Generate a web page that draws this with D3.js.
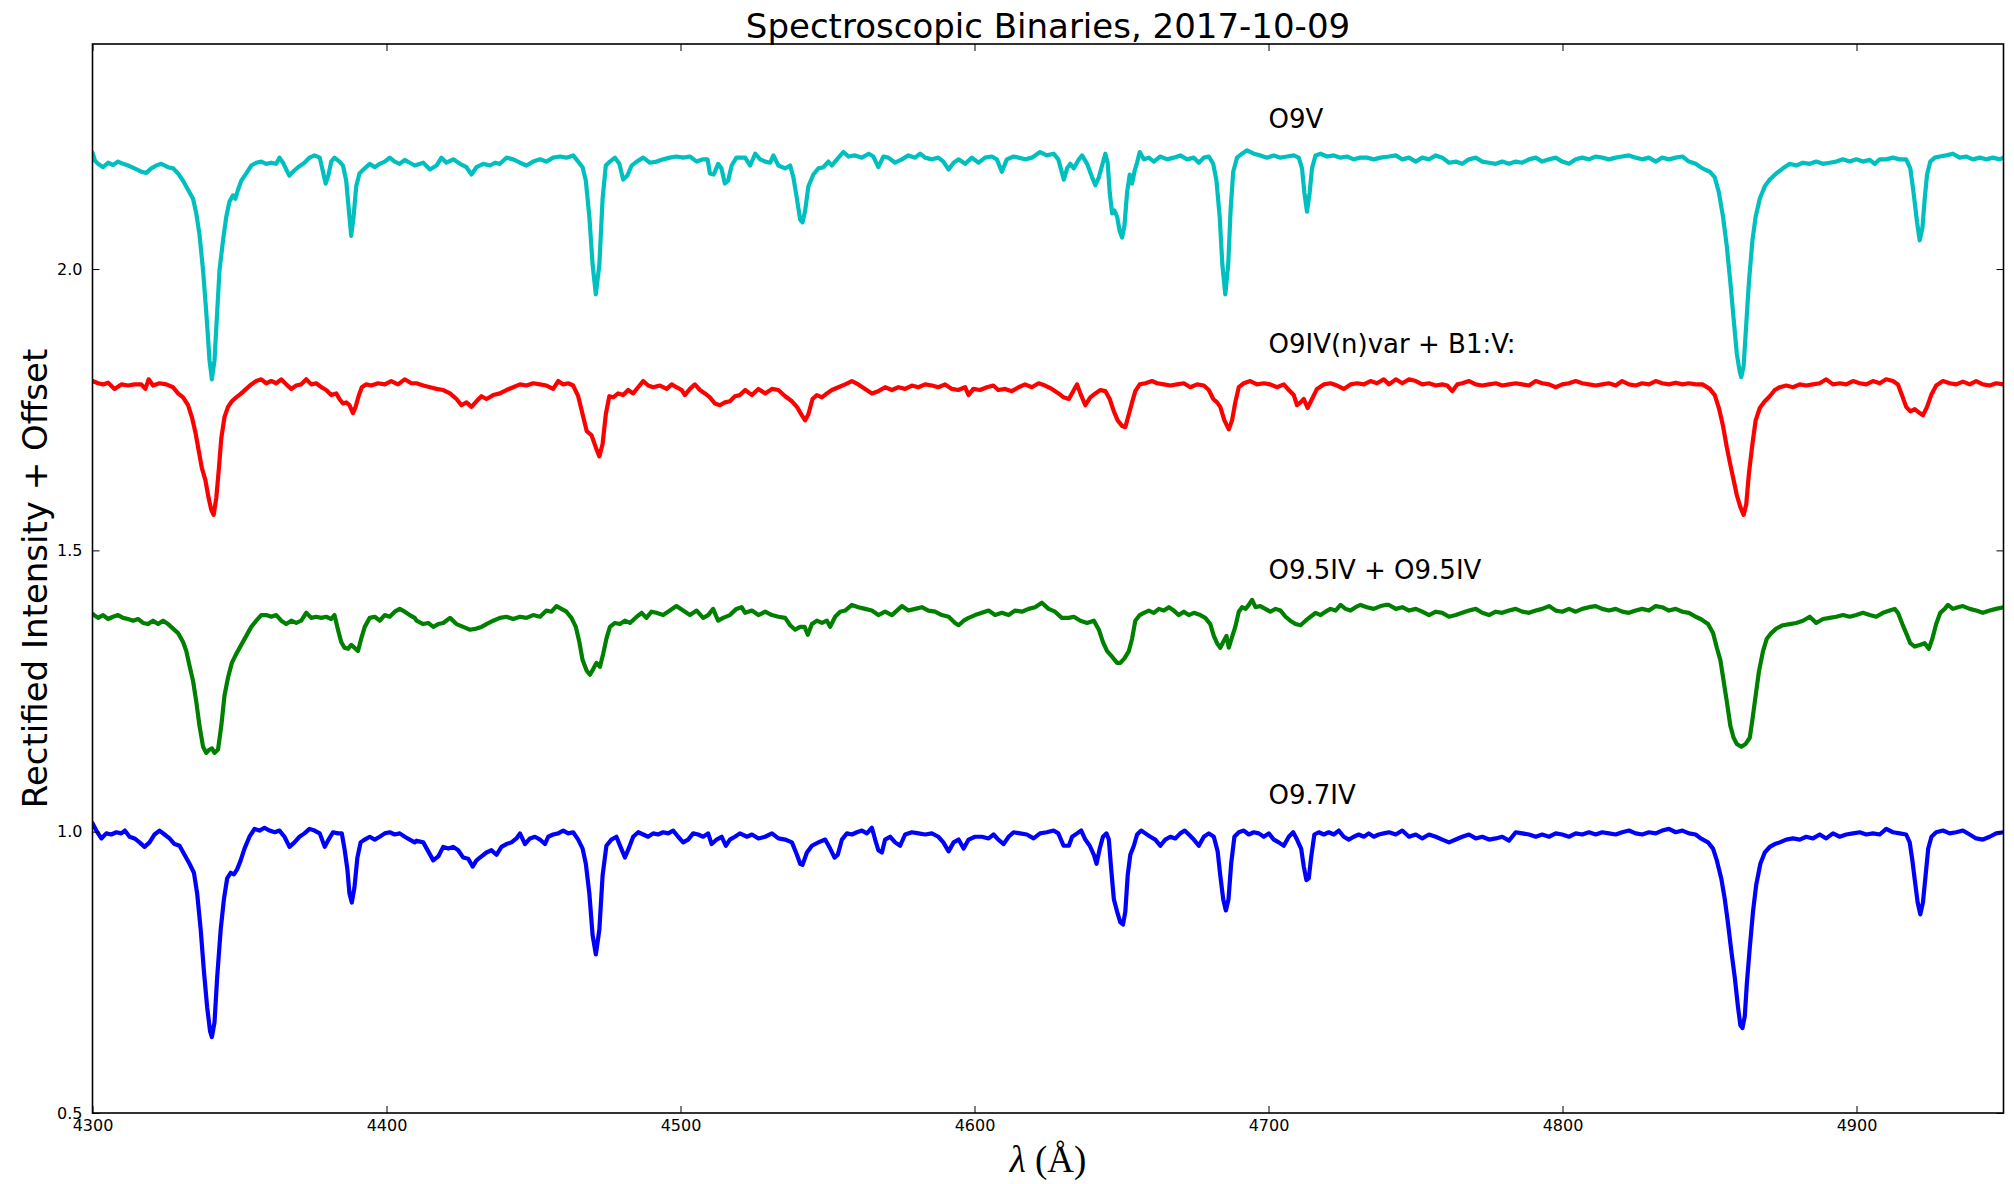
<!DOCTYPE html>
<html>
<head>
<meta charset="utf-8">
<script src="https://cdn.jsdelivr.net/npm/d3@7"></script>
<style>
  html, body { margin: 0; padding: 0; background: #ffffff; }
  svg { display: block; }
</style>
</head>
<body>
<svg id="chart" width="2014" height="1184"></svg>
<script>
// Rectified spectra, each shifted by a constant offset: [wavelength (Å), intensity + offset]
const specO9V = [
  [4300.0,2.207],[4300.8,2.193],[4301.9,2.187],[4303.6,2.181],[4305.3,2.189],[4307.0,2.185],[4308.7,2.191],[4310.4,2.187],
  [4312.1,2.184],[4314.3,2.179],[4316.6,2.173],[4318.3,2.171],[4320.0,2.179],[4321.7,2.184],[4323.4,2.187],[4325.7,2.181],
  [4327.4,2.179],[4329.1,2.170],[4330.8,2.157],[4332.5,2.141],[4334.2,2.125],[4335.3,2.099],[4336.4,2.061],[4337.6,1.998],
  [4338.7,1.923],[4339.8,1.838],[4340.6,1.804],[4341.5,1.838],[4342.4,1.923],[4343.2,1.998],[4344.4,2.051],[4345.5,2.093],
  [4346.6,2.120],[4347.8,2.131],[4348.6,2.125],[4349.5,2.141],[4350.6,2.157],[4352.3,2.170],[4354.0,2.184],[4355.7,2.189],
  [4357.4,2.191],[4359.1,2.187],[4360.8,2.189],[4362.5,2.187],[4363.6,2.198],[4364.8,2.189],[4365.9,2.177],[4367.0,2.166],
  [4368.2,2.173],[4369.9,2.181],[4372.1,2.189],[4373.8,2.198],[4375.5,2.202],[4377.3,2.198],[4378.4,2.173],[4379.3,2.152],
  [4380.3,2.168],[4381.2,2.191],[4382.3,2.198],[4384.0,2.191],[4385.2,2.184],[4386.3,2.157],[4387.2,2.104],[4388.0,2.059],
  [4388.8,2.093],[4389.7,2.147],[4390.8,2.170],[4392.6,2.179],[4394.3,2.187],[4396.0,2.181],[4397.7,2.187],[4399.4,2.191],
  [4401.1,2.198],[4402.8,2.191],[4404.5,2.187],[4406.2,2.194],[4407.9,2.189],[4409.6,2.184],[4412.5,2.189],[4414.8,2.177],
  [4417.0,2.184],[4418.7,2.198],[4420.4,2.189],[4422.7,2.195],[4425.0,2.187],[4427.2,2.181],[4428.9,2.168],[4430.6,2.181],
  [4432.9,2.187],[4435.2,2.184],[4436.9,2.189],[4438.6,2.187],[4440.8,2.198],[4443.1,2.195],[4445.4,2.189],[4447.6,2.184],
  [4449.9,2.191],[4452.2,2.195],[4454.4,2.191],[4456.7,2.198],[4459.0,2.200],[4461.2,2.198],[4463.5,2.202],[4465.2,2.191],
  [4466.7,2.181],[4467.8,2.157],[4469.0,2.093],[4470.1,2.008],[4471.2,1.955],[4472.4,2.008],[4473.5,2.125],[4474.6,2.184],
  [4476.0,2.191],[4477.7,2.198],[4479.2,2.187],[4480.5,2.159],[4481.9,2.166],[4483.4,2.184],[4485.1,2.191],[4487.3,2.198],
  [4489.6,2.189],[4491.9,2.191],[4494.1,2.195],[4496.4,2.198],[4498.6,2.200],[4500.9,2.198],[4503.2,2.200],[4505.5,2.191],
  [4507.7,2.195],[4509.2,2.195],[4510.0,2.170],[4511.3,2.168],[4512.8,2.187],[4513.9,2.179],[4515.1,2.152],[4516.2,2.157],
  [4517.4,2.184],[4519.0,2.198],[4522.0,2.198],[4523.7,2.184],[4525.4,2.205],[4527.1,2.195],[4528.8,2.191],[4530.5,2.189],
  [4531.6,2.202],[4533.3,2.184],[4535.6,2.179],[4537.3,2.184],[4538.4,2.163],[4539.6,2.125],[4540.7,2.088],[4541.5,2.083],
  [4542.4,2.104],[4543.5,2.147],[4545.2,2.168],[4546.9,2.179],[4548.6,2.181],[4550.3,2.191],[4551.5,2.184],[4553.2,2.195],
  [4555.4,2.208],[4557.2,2.200],[4559.4,2.202],[4561.7,2.198],[4564.0,2.205],[4565.6,2.200],[4567.3,2.181],[4569.0,2.200],
  [4570.7,2.198],[4573.0,2.189],[4575.3,2.195],[4577.5,2.202],[4579.8,2.198],[4581.5,2.205],[4583.2,2.198],[4585.5,2.195],
  [4587.7,2.198],[4589.4,2.191],[4591.2,2.177],[4592.9,2.189],[4594.6,2.195],[4596.8,2.187],[4599.1,2.198],[4601.4,2.189],
  [4603.6,2.198],[4605.9,2.200],[4607.6,2.195],[4609.3,2.173],[4611.0,2.195],[4613.3,2.200],[4615.0,2.198],[4617.2,2.195],
  [4619.5,2.198],[4622.3,2.208],[4624.6,2.202],[4626.9,2.205],[4628.5,2.195],[4630.4,2.159],[4631.5,2.179],[4632.6,2.187],
  [4633.8,2.179],[4635.5,2.195],[4636.6,2.202],[4638.3,2.187],[4640.0,2.163],[4641.1,2.149],[4642.3,2.163],[4643.4,2.184],
  [4644.5,2.205],[4645.3,2.189],[4646.0,2.136],[4646.8,2.099],[4647.6,2.104],[4648.5,2.093],[4649.4,2.067],[4650.2,2.056],
  [4651.0,2.077],[4651.9,2.136],[4652.8,2.168],[4653.6,2.152],[4654.4,2.173],[4655.3,2.189],[4656.2,2.208],[4657.6,2.195],
  [4659.3,2.198],[4661.0,2.191],[4663.2,2.200],[4665.5,2.195],[4667.8,2.198],[4670.0,2.202],[4672.3,2.195],[4674.6,2.198],
  [4676.3,2.189],[4678.0,2.198],[4679.7,2.200],[4681.2,2.187],[4682.3,2.157],[4683.4,2.093],[4684.3,2.008],[4685.3,1.955],
  [4686.3,2.008],[4687.1,2.104],[4688.0,2.173],[4689.3,2.198],[4691.0,2.205],[4692.7,2.211],[4695.0,2.205],[4697.2,2.202],
  [4699.5,2.198],[4701.8,2.202],[4704.1,2.198],[4706.3,2.200],[4708.6,2.202],[4710.3,2.198],[4711.4,2.179],[4712.2,2.136],
  [4713.1,2.102],[4714.0,2.136],[4714.8,2.179],[4716.0,2.202],[4717.7,2.205],[4719.9,2.200],[4722.2,2.202],[4724.5,2.198],
  [4726.7,2.200],[4729.0,2.195],[4731.2,2.198],[4733.5,2.198],[4735.8,2.195],[4738.1,2.198],[4741.0,2.200],[4743.3,2.202],
  [4745.5,2.195],[4747.8,2.198],[4750.1,2.191],[4752.3,2.198],[4754.6,2.195],[4756.9,2.202],[4759.1,2.198],[4761.4,2.189],
  [4763.7,2.191],[4765.9,2.187],[4768.2,2.195],[4770.5,2.198],[4772.7,2.191],[4775.0,2.189],[4777.3,2.187],[4779.5,2.191],
  [4781.8,2.187],[4784.1,2.191],[4786.3,2.189],[4788.6,2.195],[4790.9,2.198],[4793.1,2.191],[4795.4,2.195],[4797.7,2.198],
  [4799.9,2.191],[4802.2,2.187],[4804.5,2.195],[4806.7,2.198],[4809.0,2.195],[4811.3,2.200],[4813.5,2.198],[4815.8,2.195],
  [4818.1,2.198],[4820.3,2.200],[4822.6,2.202],[4824.9,2.198],[4827.1,2.195],[4829.4,2.198],[4831.7,2.191],[4833.9,2.198],
  [4836.2,2.195],[4838.5,2.198],[4840.8,2.200],[4843.0,2.191],[4845.3,2.187],[4847.0,2.181],[4848.7,2.176],[4850.1,2.173],
  [4851.8,2.163],[4853.2,2.136],[4854.6,2.093],[4855.9,2.040],[4857.1,1.976],[4858.2,1.912],[4859.3,1.849],[4860.3,1.817],
  [4860.8,1.808],[4861.6,1.827],[4862.5,1.902],[4863.4,1.976],[4864.6,2.051],[4865.7,2.093],[4867.1,2.125],[4868.8,2.147],
  [4870.5,2.159],[4872.7,2.170],[4875.0,2.179],[4877.3,2.187],[4879.5,2.184],[4881.8,2.189],[4884.1,2.187],[4886.3,2.191],
  [4888.6,2.187],[4890.9,2.189],[4893.1,2.191],[4895.4,2.195],[4897.7,2.191],[4899.9,2.195],[4902.2,2.191],[4904.5,2.194],
  [4906.2,2.187],[4907.9,2.195],[4910.1,2.195],[4912.4,2.198],[4914.7,2.195],[4916.9,2.195],[4918.3,2.179],[4919.4,2.136],
  [4920.6,2.083],[4921.5,2.051],[4922.4,2.072],[4923.2,2.125],[4924.0,2.168],[4925.1,2.191],[4926.6,2.198],[4928.3,2.200],
  [4930.5,2.202],[4932.8,2.205],[4935.1,2.198],[4937.3,2.200],[4939.6,2.195],[4941.9,2.198],[4944.1,2.195],[4946.4,2.198],
  [4948.7,2.195],[4950.0,2.198]
];

const specO9IVB1V = [
  [4300.0,1.801],[4301.9,1.797],[4303.6,1.795],[4305.3,1.798],[4307.5,1.787],[4309.8,1.795],[4312.1,1.793],[4314.3,1.795],
  [4316.6,1.795],[4318.0,1.787],[4319.1,1.804],[4320.6,1.793],[4322.8,1.797],[4325.1,1.795],[4327.4,1.790],[4329.1,1.779],
  [4330.8,1.772],[4332.5,1.758],[4333.8,1.737],[4335.0,1.710],[4336.1,1.678],[4337.2,1.646],[4338.4,1.625],[4339.5,1.593],
  [4340.4,1.572],[4341.2,1.563],[4342.1,1.593],[4343.0,1.646],[4343.8,1.699],[4344.9,1.737],[4346.1,1.755],[4347.4,1.765],
  [4348.9,1.772],[4350.6,1.779],[4352.3,1.787],[4354.0,1.795],[4355.7,1.801],[4357.4,1.804],[4359.1,1.797],[4360.8,1.801],
  [4362.5,1.797],[4364.2,1.804],[4365.9,1.795],[4367.6,1.787],[4369.3,1.793],[4371.0,1.795],[4372.7,1.804],[4374.4,1.795],
  [4376.1,1.797],[4377.8,1.790],[4379.5,1.785],[4381.2,1.776],[4382.9,1.779],[4384.0,1.769],[4385.2,1.761],[4386.3,1.763],
  [4387.4,1.758],[4388.6,1.744],[4389.5,1.755],[4390.5,1.774],[4391.6,1.790],[4393.1,1.795],[4394.8,1.793],[4397.1,1.797],
  [4399.4,1.795],[4401.6,1.801],[4403.9,1.795],[4406.2,1.804],[4408.4,1.797],[4410.2,1.797],[4412.5,1.793],[4414.8,1.790],
  [4417.0,1.787],[4419.3,1.785],[4421.6,1.779],[4423.8,1.769],[4425.5,1.758],[4427.2,1.763],[4428.9,1.755],[4430.6,1.765],
  [4432.3,1.774],[4434.0,1.769],[4436.3,1.776],[4438.6,1.779],[4440.8,1.785],[4443.1,1.790],[4445.4,1.795],[4447.6,1.793],
  [4449.9,1.797],[4452.2,1.795],[4454.4,1.793],[4456.7,1.787],[4458.4,1.801],[4460.1,1.795],[4461.8,1.797],[4463.5,1.793],
  [4465.2,1.774],[4466.7,1.742],[4468.1,1.712],[4469.7,1.705],[4471.2,1.683],[4472.4,1.667],[4473.5,1.689],[4474.6,1.742],
  [4475.8,1.774],[4477.1,1.772],[4478.8,1.779],[4480.5,1.776],[4482.2,1.785],[4483.9,1.779],[4485.6,1.790],[4487.3,1.801],
  [4489.0,1.793],[4490.7,1.790],[4493.0,1.793],[4495.3,1.787],[4497.0,1.795],[4498.6,1.790],[4500.4,1.785],[4501.5,1.776],
  [4503.2,1.787],[4504.9,1.795],[4506.6,1.785],[4508.3,1.779],[4510.0,1.772],[4511.7,1.761],[4513.4,1.758],[4515.1,1.763],
  [4516.8,1.765],[4518.5,1.774],[4520.2,1.776],[4522.0,1.785],[4524.3,1.776],[4526.5,1.787],[4528.8,1.779],[4531.1,1.787],
  [4533.3,1.785],[4535.6,1.774],[4537.9,1.765],[4539.6,1.755],[4541.3,1.740],[4542.4,1.731],[4543.5,1.742],[4544.9,1.769],
  [4546.4,1.776],[4548.1,1.772],[4549.8,1.779],[4551.5,1.785],[4553.7,1.790],[4556.0,1.795],[4558.3,1.801],[4560.5,1.795],
  [4562.8,1.787],[4565.1,1.779],[4567.3,1.783],[4569.6,1.790],[4571.9,1.785],[4574.1,1.790],[4576.4,1.787],[4578.7,1.793],
  [4580.9,1.790],[4583.2,1.795],[4585.5,1.793],[4587.7,1.790],[4590.0,1.795],[4592.3,1.787],[4594.5,1.785],[4596.8,1.790],
  [4598.0,1.776],[4599.6,1.787],[4601.9,1.785],[4604.2,1.790],[4606.4,1.793],[4608.1,1.785],[4610.4,1.787],[4612.7,1.783],
  [4615.0,1.790],[4617.2,1.795],[4619.5,1.790],[4621.8,1.797],[4624.0,1.793],[4626.3,1.787],[4628.6,1.779],[4630.3,1.772],
  [4632.1,1.769],[4633.8,1.785],[4634.9,1.795],[4636.0,1.779],[4637.7,1.758],[4639.4,1.772],[4641.1,1.779],[4642.8,1.785],
  [4644.5,1.783],[4646.0,1.769],[4647.4,1.747],[4648.7,1.731],[4650.2,1.721],[4651.3,1.719],[4652.5,1.742],[4653.6,1.763],
  [4654.7,1.783],[4656.2,1.795],[4658.1,1.797],[4660.4,1.801],[4662.1,1.797],[4664.4,1.795],[4666.6,1.793],[4668.9,1.795],
  [4671.2,1.797],[4673.4,1.790],[4675.7,1.795],[4678.0,1.793],[4679.7,1.785],[4681.2,1.769],[4682.5,1.763],[4683.6,1.755],
  [4685.0,1.731],[4686.5,1.715],[4687.6,1.731],[4688.7,1.763],[4689.9,1.790],[4691.6,1.797],[4693.8,1.801],[4696.1,1.795],
  [4698.4,1.797],[4700.6,1.795],[4702.9,1.790],[4705.2,1.795],[4706.9,1.785],[4708.6,1.776],[4709.7,1.758],[4710.9,1.763],
  [4712.0,1.769],[4713.3,1.753],[4714.8,1.769],[4716.5,1.787],[4718.8,1.795],[4721.1,1.797],[4723.3,1.793],[4725.6,1.787],
  [4727.9,1.795],[4730.1,1.797],[4732.4,1.795],[4734.7,1.801],[4736.9,1.797],[4739.2,1.804],[4741.0,1.795],[4743.3,1.804],
  [4745.5,1.797],[4747.8,1.804],[4750.1,1.801],[4752.3,1.795],[4754.6,1.797],[4756.9,1.793],[4759.1,1.795],[4760.8,1.793],
  [4762.5,1.783],[4764.2,1.795],[4765.9,1.797],[4768.2,1.801],[4770.5,1.795],[4772.7,1.793],[4775.0,1.795],[4777.3,1.797],
  [4779.5,1.793],[4781.8,1.795],[4784.1,1.797],[4786.3,1.795],[4788.6,1.793],[4790.9,1.801],[4793.1,1.797],[4795.4,1.795],
  [4797.7,1.790],[4799.9,1.795],[4802.2,1.797],[4804.5,1.801],[4806.7,1.797],[4809.0,1.795],[4811.3,1.793],[4813.5,1.795],
  [4815.8,1.797],[4818.1,1.793],[4820.3,1.801],[4822.6,1.795],[4824.9,1.793],[4827.1,1.797],[4829.4,1.795],[4831.7,1.801],
  [4833.9,1.797],[4836.2,1.795],[4838.5,1.798],[4840.8,1.795],[4843.0,1.797],[4845.3,1.795],[4847.6,1.795],[4850.1,1.787],
  [4851.8,1.776],[4853.2,1.753],[4854.6,1.721],[4855.9,1.683],[4857.1,1.652],[4858.2,1.625],[4859.3,1.598],[4860.5,1.577],
  [4861.6,1.563],[4862.5,1.582],[4863.4,1.636],[4864.6,1.689],[4865.7,1.731],[4867.1,1.753],[4868.8,1.765],[4870.5,1.774],
  [4872.2,1.785],[4873.9,1.790],[4876.1,1.793],[4878.4,1.790],[4880.7,1.795],[4882.9,1.793],[4885.2,1.795],[4887.5,1.797],
  [4889.7,1.804],[4892.0,1.795],[4894.3,1.797],[4896.5,1.795],[4898.8,1.801],[4901.1,1.797],[4903.3,1.795],[4905.6,1.801],
  [4907.9,1.797],[4910.1,1.804],[4912.4,1.801],[4914.1,1.795],[4915.6,1.774],[4916.9,1.755],[4918.3,1.747],[4919.8,1.751],
  [4921.5,1.744],[4922.6,1.740],[4924.0,1.755],[4925.4,1.776],[4927.1,1.793],[4929.4,1.801],[4931.7,1.797],[4933.9,1.795],
  [4936.2,1.800],[4938.5,1.795],[4940.7,1.801],[4943.0,1.795],[4945.3,1.793],[4947.5,1.797],[4950.0,1.795]
];

const specO95IV = [
  [4300.0,1.387],[4301.9,1.380],[4303.6,1.385],[4305.3,1.378],[4307.0,1.382],[4308.7,1.385],[4310.4,1.380],[4312.1,1.378],
  [4313.8,1.375],[4315.5,1.378],[4317.2,1.371],[4318.9,1.369],[4320.6,1.375],[4322.3,1.369],[4324.0,1.375],[4325.7,1.369],
  [4327.4,1.361],[4329.1,1.353],[4330.8,1.337],[4331.9,1.321],[4333.0,1.295],[4334.2,1.268],[4335.3,1.231],[4336.4,1.188],
  [4337.6,1.151],[4338.7,1.140],[4339.8,1.146],[4340.6,1.148],[4341.5,1.140],[4342.7,1.146],[4343.8,1.188],[4344.9,1.242],
  [4346.1,1.274],[4347.4,1.300],[4348.9,1.316],[4350.6,1.332],[4352.3,1.348],[4354.0,1.364],[4355.7,1.375],[4357.4,1.385],
  [4359.1,1.385],[4360.8,1.382],[4362.5,1.385],[4364.2,1.375],[4365.9,1.369],[4367.6,1.375],[4369.3,1.371],[4371.0,1.375],
  [4372.7,1.389],[4374.4,1.380],[4376.1,1.382],[4377.8,1.380],[4379.5,1.382],[4381.2,1.378],[4382.3,1.385],[4383.5,1.359],
  [4384.6,1.337],[4385.7,1.327],[4386.9,1.325],[4388.0,1.332],[4389.1,1.327],[4390.3,1.321],[4391.4,1.343],[4392.6,1.364],
  [4394.3,1.380],[4396.0,1.382],[4397.7,1.375],[4399.4,1.385],[4401.1,1.382],[4402.8,1.391],[4404.5,1.396],[4406.2,1.391],
  [4407.9,1.385],[4409.6,1.380],[4410.2,1.375],[4412.5,1.369],[4414.2,1.371],[4415.9,1.364],[4417.6,1.369],[4419.3,1.371],
  [4421.6,1.380],[4423.8,1.369],[4426.1,1.364],[4428.4,1.359],[4430.6,1.361],[4432.3,1.364],[4434.0,1.369],[4436.3,1.375],
  [4438.6,1.380],[4440.8,1.382],[4443.1,1.378],[4445.4,1.382],[4447.6,1.380],[4449.9,1.385],[4452.2,1.382],[4454.4,1.393],
  [4456.1,1.391],[4457.8,1.401],[4459.5,1.396],[4461.2,1.391],[4462.9,1.380],[4464.4,1.364],[4465.6,1.337],[4466.7,1.305],
  [4468.1,1.286],[4469.2,1.279],[4470.3,1.289],[4471.4,1.300],[4472.6,1.293],[4473.7,1.316],[4474.8,1.343],[4476.0,1.364],
  [4477.7,1.371],[4479.4,1.369],[4481.1,1.375],[4482.8,1.371],[4485.1,1.382],[4486.8,1.389],[4488.4,1.380],[4490.1,1.391],
  [4491.8,1.389],[4494.1,1.385],[4496.4,1.393],[4498.6,1.401],[4500.9,1.393],[4503.2,1.385],[4505.5,1.393],[4507.7,1.380],
  [4509.4,1.385],[4511.1,1.396],[4512.8,1.375],[4514.5,1.380],[4516.8,1.385],[4519.0,1.396],[4520.8,1.399],[4522.0,1.389],
  [4524.3,1.393],[4526.5,1.385],[4528.8,1.391],[4531.1,1.385],[4533.3,1.382],[4535.6,1.380],[4537.3,1.367],[4539.0,1.359],
  [4540.7,1.364],[4542.2,1.364],[4543.3,1.350],[4544.7,1.369],[4546.4,1.375],[4548.1,1.371],[4549.8,1.375],[4550.9,1.364],
  [4552.6,1.382],[4554.3,1.391],[4556.0,1.393],[4558.3,1.403],[4560.5,1.399],[4562.8,1.396],[4565.1,1.393],[4567.3,1.385],
  [4569.6,1.391],[4571.9,1.385],[4573.6,1.393],[4575.3,1.401],[4577.5,1.393],[4579.8,1.396],[4582.1,1.399],[4584.3,1.393],
  [4586.6,1.391],[4588.9,1.385],[4591.2,1.382],[4593.4,1.371],[4594.6,1.367],[4596.3,1.375],[4598.0,1.380],[4600.2,1.385],
  [4602.5,1.389],[4604.8,1.393],[4607.0,1.385],[4609.3,1.389],[4611.6,1.385],[4613.8,1.393],[4616.1,1.391],[4618.4,1.396],
  [4620.6,1.399],[4622.9,1.407],[4625.2,1.396],[4627.4,1.391],[4629.7,1.380],[4632.1,1.380],[4633.8,1.382],[4636.0,1.375],
  [4638.3,1.371],[4640.6,1.375],[4642.3,1.359],[4643.7,1.337],[4645.1,1.321],[4646.8,1.311],[4648.5,1.300],[4649.6,1.300],
  [4651.0,1.308],[4652.5,1.321],[4653.6,1.343],[4654.7,1.375],[4656.2,1.385],[4657.6,1.389],[4659.3,1.393],[4661.0,1.389],
  [4662.7,1.396],[4664.4,1.393],[4666.1,1.399],[4667.8,1.393],[4669.5,1.385],[4671.2,1.391],[4672.9,1.385],[4674.6,1.389],
  [4676.8,1.385],[4678.5,1.380],[4680.2,1.369],[4681.4,1.348],[4682.5,1.335],[4683.6,1.327],[4684.6,1.337],[4685.7,1.348],
  [4686.5,1.327],[4687.6,1.346],[4688.7,1.364],[4689.9,1.391],[4691.0,1.399],[4692.2,1.396],[4693.3,1.403],[4694.4,1.412],
  [4695.6,1.399],[4697.2,1.401],[4698.9,1.396],[4700.6,1.391],[4702.4,1.396],[4704.1,1.393],[4705.8,1.382],[4707.4,1.375],
  [4709.2,1.369],[4710.9,1.367],[4712.6,1.375],[4714.3,1.382],[4716.0,1.389],[4717.7,1.385],[4719.4,1.391],[4721.1,1.396],
  [4722.8,1.393],[4724.5,1.403],[4726.2,1.396],[4727.9,1.393],[4729.6,1.399],[4731.3,1.403],[4733.5,1.399],[4735.8,1.396],
  [4738.1,1.401],[4739.8,1.403],[4741.0,1.403],[4743.3,1.396],[4745.5,1.399],[4747.8,1.393],[4750.1,1.396],[4752.3,1.391],
  [4754.6,1.385],[4756.9,1.391],[4759.1,1.389],[4761.4,1.382],[4763.7,1.385],[4765.9,1.389],[4768.2,1.393],[4770.5,1.396],
  [4772.7,1.389],[4775.0,1.385],[4777.3,1.391],[4779.5,1.389],[4781.8,1.393],[4784.1,1.396],[4786.3,1.391],[4788.6,1.389],
  [4790.9,1.393],[4793.1,1.396],[4795.4,1.401],[4797.7,1.393],[4799.9,1.391],[4802.2,1.396],[4804.5,1.391],[4806.7,1.396],
  [4809.0,1.399],[4811.3,1.401],[4813.5,1.396],[4815.8,1.393],[4818.1,1.396],[4820.3,1.391],[4822.6,1.389],[4824.9,1.393],
  [4827.1,1.396],[4829.4,1.393],[4831.7,1.401],[4833.9,1.399],[4836.2,1.393],[4838.5,1.396],[4840.8,1.391],[4843.0,1.389],
  [4845.3,1.382],[4847.0,1.378],[4849.5,1.369],[4851.2,1.353],[4852.5,1.327],[4853.7,1.305],[4854.8,1.268],[4855.9,1.231],
  [4857.1,1.188],[4858.2,1.167],[4859.3,1.156],[4860.8,1.151],[4862.3,1.156],[4863.7,1.167],[4864.6,1.199],[4865.7,1.242],
  [4866.8,1.284],[4868.2,1.321],[4869.5,1.343],[4871.0,1.353],[4872.7,1.361],[4875.0,1.367],[4877.3,1.369],[4879.5,1.371],
  [4881.8,1.375],[4884.1,1.382],[4886.3,1.371],[4888.6,1.378],[4890.9,1.380],[4893.1,1.382],[4895.4,1.385],[4897.7,1.382],
  [4899.9,1.385],[4902.2,1.389],[4904.5,1.385],[4906.7,1.382],[4909.0,1.389],[4911.3,1.393],[4913.0,1.396],[4914.1,1.389],
  [4915.6,1.369],[4916.9,1.353],[4918.3,1.335],[4919.8,1.329],[4921.5,1.332],[4923.2,1.335],[4924.6,1.325],[4925.8,1.343],
  [4927.1,1.369],[4928.5,1.389],[4930.0,1.396],[4931.1,1.403],[4932.8,1.396],[4934.5,1.399],[4936.2,1.401],[4938.5,1.396],
  [4940.7,1.393],[4943.0,1.389],[4945.3,1.393],[4947.5,1.396],[4950.0,1.399]
];

const specO97IV = [
  [4300.0,1.015],[4301.3,1.002],[4303.0,0.988],[4304.7,0.997],[4306.4,0.995],[4308.1,0.999],[4309.8,0.997],[4311.0,1.002],
  [4312.6,0.991],[4314.3,0.988],[4316.0,0.981],[4317.7,0.973],[4319.4,0.981],[4321.1,0.995],[4322.8,1.002],[4324.5,0.995],
  [4326.2,0.988],[4327.9,0.978],[4329.6,0.975],[4331.3,0.959],[4333.0,0.943],[4334.5,0.927],[4335.6,0.890],[4336.8,0.826],
  [4337.9,0.752],[4339.0,0.688],[4340.0,0.645],[4340.6,0.635],[4341.5,0.661],[4342.4,0.741],[4343.6,0.826],[4344.7,0.880],
  [4345.8,0.917],[4347.0,0.927],[4348.1,0.924],[4349.2,0.933],[4350.4,0.949],[4351.7,0.970],[4353.4,0.991],[4355.1,1.005],
  [4356.8,1.002],[4358.5,1.007],[4360.2,1.002],[4362.0,0.999],[4363.6,1.002],[4365.3,0.991],[4367.0,0.973],[4368.7,0.981],
  [4370.4,0.991],[4372.1,0.997],[4373.8,1.005],[4375.5,1.002],[4377.3,0.997],[4379.0,0.973],[4380.3,0.986],[4381.8,0.999],
  [4383.5,0.997],[4384.8,0.997],[4385.7,0.970],[4386.7,0.933],[4387.4,0.890],[4388.2,0.874],[4389.1,0.901],[4390.1,0.954],
  [4391.2,0.981],[4392.6,0.986],[4394.3,0.991],[4396.0,0.986],[4397.7,0.991],[4399.4,0.997],[4401.1,0.999],[4402.8,0.995],
  [4404.5,0.997],[4406.2,0.991],[4407.9,0.986],[4409.6,0.981],[4410.2,0.984],[4412.5,0.981],[4414.2,0.965],[4415.9,0.949],
  [4417.6,0.956],[4419.3,0.973],[4421.0,0.970],[4422.7,0.973],[4424.4,0.967],[4426.1,0.954],[4427.8,0.952],[4429.3,0.938],
  [4430.6,0.949],[4432.3,0.956],[4434.0,0.963],[4435.7,0.967],[4437.4,0.959],[4439.1,0.973],[4440.8,0.978],[4442.5,0.981],
  [4444.2,0.988],[4445.4,0.997],[4447.1,0.978],[4448.8,0.988],[4450.5,0.991],[4452.2,0.986],[4453.9,0.978],[4455.0,0.991],
  [4456.7,0.995],[4458.4,0.997],[4460.1,1.002],[4461.8,0.997],[4463.5,0.999],[4465.2,0.986],[4466.7,0.970],[4467.8,0.943],
  [4469.0,0.890],[4470.1,0.816],[4471.2,0.782],[4472.4,0.826],[4473.5,0.922],[4474.8,0.975],[4476.5,0.986],[4478.2,0.991],
  [4479.6,0.973],[4481.1,0.954],[4482.6,0.973],[4483.9,0.991],[4485.6,0.999],[4487.3,0.995],[4489.0,0.991],[4490.7,0.997],
  [4492.4,0.995],[4494.1,0.999],[4495.8,0.997],[4497.5,1.002],[4499.2,0.991],[4500.9,0.981],[4502.6,0.986],[4504.3,0.997],
  [4506.0,0.995],[4507.7,0.991],[4509.4,0.997],[4510.6,0.978],[4512.3,0.986],[4514.0,0.991],[4515.4,0.975],[4516.8,0.986],
  [4518.5,0.991],[4520.2,0.997],[4522.6,0.991],[4524.3,0.995],[4526.5,0.988],[4528.8,0.991],[4531.1,0.997],[4533.3,0.988],
  [4535.6,0.986],[4537.9,0.981],[4539.6,0.959],[4540.7,0.943],[4541.5,0.941],[4543.0,0.963],[4544.7,0.975],[4546.9,0.981],
  [4549.2,0.986],[4550.9,0.970],[4552.4,0.954],[4553.5,0.959],[4554.9,0.986],[4556.6,0.997],[4558.3,0.995],[4560.0,0.999],
  [4561.7,1.002],[4563.4,0.997],[4565.1,1.007],[4566.2,0.986],[4567.3,0.967],[4568.5,0.963],[4569.6,0.986],[4571.3,0.991],
  [4573.0,0.981],[4574.7,0.975],[4576.4,0.995],[4578.7,0.999],[4581.0,0.997],[4583.2,0.995],[4585.5,0.997],[4587.7,0.991],
  [4589.4,0.981],[4591.2,0.965],[4592.9,0.981],[4594.6,0.986],[4596.3,0.970],[4598.0,0.986],[4600.2,0.991],[4602.5,0.991],
  [4604.8,0.988],[4606.5,0.995],[4608.1,0.986],[4609.9,0.978],[4611.6,0.991],[4613.3,0.999],[4615.5,0.997],[4617.8,0.995],
  [4620.1,0.988],[4622.3,0.997],[4624.6,0.999],[4626.9,1.002],[4628.5,0.997],[4630.3,0.975],[4632.1,0.975],[4633.2,0.991],
  [4634.9,0.997],[4636.3,1.002],[4637.7,0.986],[4639.2,0.975],[4640.6,0.959],[4641.5,0.943],[4642.6,0.970],[4643.7,0.991],
  [4644.9,0.997],[4645.7,0.986],[4646.5,0.933],[4647.4,0.880],[4648.5,0.858],[4649.6,0.839],[4650.5,0.835],[4651.3,0.858],
  [4652.1,0.922],[4653.0,0.959],[4654.2,0.975],[4655.3,0.995],[4656.7,1.002],[4658.1,0.997],[4659.8,0.991],[4661.5,0.986],
  [4663.2,0.975],[4664.9,0.986],[4666.6,0.991],[4668.3,0.988],[4670.0,0.997],[4671.5,1.002],[4672.9,0.995],[4674.6,0.986],
  [4676.3,0.975],[4678.0,0.991],[4679.7,0.997],[4681.4,0.991],[4682.7,0.965],[4683.6,0.922],[4684.6,0.880],[4685.5,0.860],
  [4686.4,0.880],[4687.3,0.943],[4688.4,0.991],[4689.9,0.999],[4691.6,1.002],[4693.3,0.995],[4695.0,0.999],[4696.7,0.997],
  [4698.4,0.991],[4700.1,0.997],[4701.8,0.986],[4703.5,0.981],[4705.2,0.975],[4706.9,0.991],[4708.4,0.999],[4709.7,0.986],
  [4711.1,0.970],[4712.0,0.938],[4712.9,0.914],[4713.7,0.917],[4714.5,0.954],[4715.6,0.995],[4717.1,0.999],[4718.8,0.995],
  [4720.5,0.999],[4722.2,0.995],[4723.9,1.002],[4725.6,0.991],[4727.3,0.986],[4729.0,0.991],[4730.7,0.995],[4732.4,0.991],
  [4734.1,0.997],[4735.8,0.991],[4737.5,0.995],[4739.2,0.997],[4741.0,0.999],[4743.3,0.995],[4745.5,1.002],[4747.8,0.991],
  [4750.1,0.995],[4752.3,0.988],[4754.6,0.995],[4756.9,0.991],[4759.1,0.986],[4761.4,0.981],[4763.7,0.986],[4765.9,0.991],
  [4768.2,0.995],[4770.5,0.988],[4772.7,0.991],[4775.0,0.986],[4777.3,0.988],[4779.5,0.991],[4781.8,0.984],[4784.1,0.999],
  [4786.3,0.997],[4788.6,0.995],[4790.9,0.991],[4793.1,0.995],[4795.4,0.991],[4797.7,0.997],[4799.9,0.995],[4802.2,0.991],
  [4804.5,0.997],[4806.7,0.995],[4809.0,0.999],[4811.3,0.995],[4813.5,0.999],[4815.8,0.997],[4818.1,0.995],[4820.3,0.999],
  [4822.6,1.002],[4824.9,0.997],[4827.1,0.995],[4829.4,0.999],[4831.7,0.997],[4833.9,1.002],[4836.2,1.005],[4838.5,0.999],
  [4840.8,1.002],[4843.0,0.997],[4845.3,0.995],[4847.0,0.988],[4849.5,0.981],[4851.2,0.970],[4852.5,0.949],[4854.0,0.917],
  [4855.2,0.880],[4856.3,0.837],[4857.4,0.789],[4858.6,0.741],[4859.7,0.688],[4860.5,0.656],[4861.2,0.651],[4862.0,0.672],
  [4862.7,0.730],[4863.7,0.794],[4864.8,0.858],[4865.9,0.906],[4867.3,0.943],[4868.8,0.963],[4870.5,0.973],[4872.2,0.978],
  [4873.9,0.981],[4876.1,0.986],[4878.4,0.988],[4880.7,0.986],[4882.9,0.991],[4885.2,0.988],[4887.5,0.995],[4889.7,0.988],
  [4892.0,0.997],[4894.3,0.991],[4896.5,0.995],[4898.8,0.997],[4901.1,0.999],[4903.3,0.995],[4905.6,0.997],[4907.9,0.995],
  [4910.1,1.005],[4912.4,0.999],[4914.7,0.997],[4916.9,0.995],[4918.1,0.981],[4919.0,0.949],[4919.9,0.911],[4920.8,0.874],
  [4921.7,0.853],[4922.6,0.874],[4923.5,0.922],[4924.4,0.970],[4925.5,0.991],[4927.1,0.999],[4929.4,1.002],[4931.7,0.997],
  [4933.9,0.999],[4936.2,1.002],[4938.5,0.995],[4940.7,0.988],[4943.0,0.986],[4945.3,0.991],[4947.5,0.997],[4950.0,0.999]
];

// Spectral classifications, drawn beside each spectrum at λ = 4700 Å
const spectralTypes = ["O9V", "O9IV(n)var + B1:V:", "O9.5IV + O9.5IV", "O9.7IV"];
const typeLabelLevels = [2.25, 1.85, 1.45, 1.05];
const typeLabelWave = 4700;

const seriesColors = ["#00bfbf", "#ff0000", "#008000", "#0000ff"];

// Axis ticks
const waveTicks = [4300, 4400, 4500, 4600, 4700, 4800, 4900];
const waveDomain = [4300, 4950];
const fluxTicks = [0.5, 1.0, 1.5, 2.0];
const fluxDomain = [0.5, 2.4];

const chartTitle = "Spectroscopic Binaries, 2017-10-09";
const yTitle = "Rectified Intensity + Offset";

// ---------------------------------------------------------------------------
const W = 2014, H = 1184;
const margin = { left: 92.5, right: 10.5, top: 44, bottom: 71 };
const plotW = W - margin.left - margin.right;
const plotH = H - margin.top - margin.bottom;

const svg = d3.select("#chart");

const x = d3.scaleLinear().domain(waveDomain).range([margin.left, W - margin.right]);
const y = d3.scaleLinear().domain(fluxDomain).range([H - margin.bottom, margin.top]);

svg.append("defs").append("clipPath").attr("id", "plotClip")
  .append("rect")
  .attr("x", margin.left).attr("y", margin.top)
  .attr("width", plotW).attr("height", plotH);

// Spectra
const spectra = [specO9V, specO9IVB1V, specO95IV, specO97IV];
const line = d3.line().x(d => x(d[0])).y(d => y(d[1]));

const traces = svg.append("g").attr("clip-path", "url(#plotClip)");
spectra.forEach((s, i) => {
  traces.append("path")
    .datum(s)
    .attr("d", line)
    .attr("fill", "none")
    .attr("stroke", seriesColors[i])
    .attr("stroke-width", 4.2)
    .attr("stroke-linejoin", "round")
    .attr("stroke-linecap", "round");
});

// Axes: ticks point inward on all four sides
const tickFont = "DejaVu Sans, sans-serif";
const tickLen = 7;

const xBottom = svg.append("g")
  .attr("transform", `translate(0,${H - margin.bottom})`)
  .call(d3.axisBottom(x).tickValues(waveTicks).tickFormat(d3.format("d"))
    .tickSizeInner(-tickLen).tickSizeOuter(0).tickPadding(7));
const xTop = svg.append("g")
  .attr("transform", `translate(0,${margin.top})`)
  .call(d3.axisTop(x).tickValues(waveTicks).tickFormat("")
    .tickSizeInner(-tickLen).tickSizeOuter(0));
const yLeft = svg.append("g")
  .attr("transform", `translate(${margin.left},0)`)
  .call(d3.axisLeft(y).tickValues(fluxTicks).tickFormat(d3.format(".1f"))
    .tickSizeInner(-tickLen).tickSizeOuter(0).tickPadding(10));
const yRight = svg.append("g")
  .attr("transform", `translate(${W - margin.right},0)`)
  .call(d3.axisRight(y).tickValues(fluxTicks).tickFormat("")
    .tickSizeInner(-tickLen).tickSizeOuter(0));

[xBottom, xTop, yLeft, yRight].forEach(g => {
  g.select(".domain").remove();
  g.selectAll(".tick line").attr("stroke", "#000").attr("stroke-width", 1);
  g.selectAll(".tick text")
    .attr("fill", "#000")
    .style("font-family", tickFont)
    .style("font-size", "16px");
});

// Frame
svg.append("rect")
  .attr("x", margin.left).attr("y", margin.top)
  .attr("width", plotW).attr("height", plotH)
  .attr("fill", "none").attr("stroke", "#000").attr("stroke-width", 1.6);

// Classification labels
spectralTypes.forEach((t, i) => {
  svg.append("text")
    .attr("x", x(typeLabelWave))
    .attr("y", y(typeLabelLevels[i]))
    .attr("fill", "#000")
    .style("font-family", "DejaVu Sans, sans-serif")
    .style("font-size", "26px")
    .text(t);
});

// Title
svg.append("text")
  .attr("x", margin.left + plotW / 2)
  .attr("y", 38)
  .attr("text-anchor", "middle")
  .style("font-family", "DejaVu Sans, sans-serif")
  .style("font-size", "34px")
  .attr("fill", "#000")
  .text(chartTitle);

// Y-axis title
svg.append("text")
  .attr("transform", `translate(47,${margin.top + plotH / 2}) rotate(-90)`)
  .attr("text-anchor", "middle")
  .style("font-family", "DejaVu Sans, sans-serif")
  .style("font-size", "34px")
  .attr("fill", "#000")
  .text(yTitle);

// X-axis title: λ (Å)
const xTitle = svg.append("text")
  .attr("x", margin.left + plotW / 2)
  .attr("y", 1172)
  .attr("text-anchor", "middle")
  .style("font-family", "Liberation Serif, DejaVu Serif, serif")
  .style("font-size", "37px")
  .attr("fill", "#000");
xTitle.append("tspan").style("font-style", "italic").text("λ");
xTitle.append("tspan").text(" (Å)");
</script>
</body>
</html>
